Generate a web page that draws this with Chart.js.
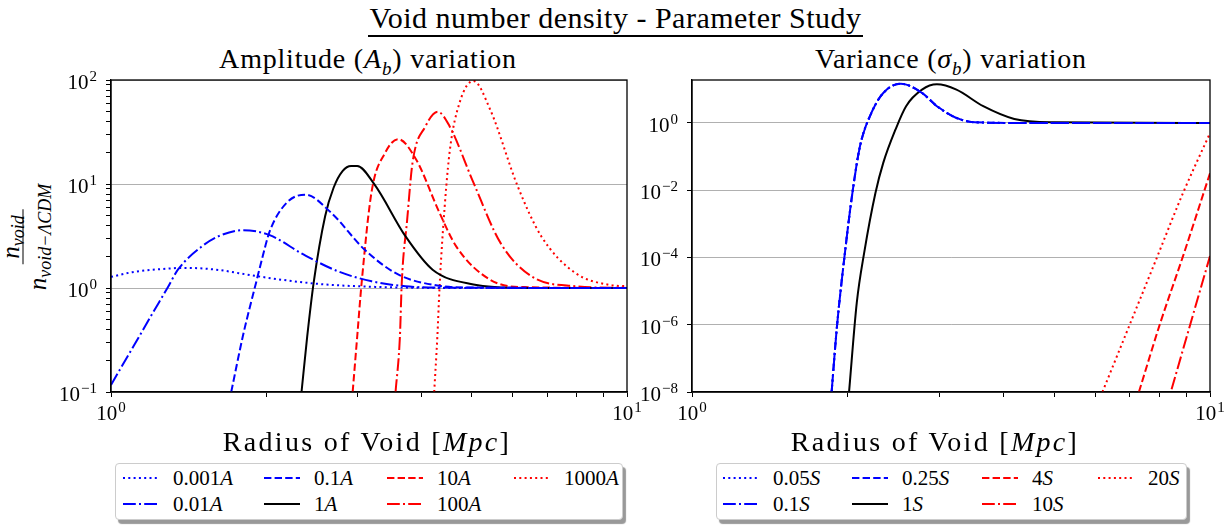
<!DOCTYPE html>
<html>
<head>
<meta charset="UTF-8">
<title>Void number density - Parameter Study</title>
<script src="https://cdn.jsdelivr.net/npm/chart.js@4.4.1/dist/chart.umd.min.js"></script>
<style>
  body { margin: 0; background: #fff; font-family: 'Liberation Serif', serif; color: #000; }
  #page { position: relative; width: 1231px; height: 525px; overflow: hidden; }
  .abs { position: absolute; }
  #title { left: 0; width: 1231px; top: 1px; text-align: center; font-size: 30px; line-height: 34px; letter-spacing: 0.5px; }
  #title span { border-bottom: 2px solid #000; padding: 0 1px 1px; }
  .sub { top: 43px; font-size: 28px; line-height: 32px; text-align: center; white-space: nowrap; letter-spacing: 0.8px; }
  .sub sub { font-size: 19px; }
  .xt { top: 426px; font-size: 28px; line-height: 32px; text-align: center; white-space: nowrap; letter-spacing: 2.3px; }
  .wrap { top: 0; height: 430px; }
  .legend { top: 463px; height: 55px; border: 1px solid #ccc; border-radius: 4px; background: #fff;
            box-shadow: 3px 4px 1px #999; }
  .item { position: absolute; font-size: 21px; line-height: 24px; display: flex; align-items: center; white-space: nowrap; }
  .item svg { margin-right: 14px; }
  #ylab { left: 24px; top: 237px; transform: translate(-50%, -50%) rotate(-90deg); text-align: center; font-size: 25px; white-space: nowrap; line-height: 16px; }
  #ylab .num { padding: 0 6px 4px; border-bottom: 1.5px solid #000; display: inline-block; }
  #ylab .den { padding-top: 6px; }
  #ylab sub { font-size: 18px; line-height: 0; vertical-align: -0.3em; }
</style>
</head>
<body>
<div id="page">
  <div id="title" class="abs"><span>Void number density - Parameter Study</span></div>
  <div class="abs sub" style="left:168px;width:400px">Amplitude (<i>A<sub>b</sub></i>) variation</div>
  <div class="abs sub" style="left:751px;width:400px">Variance (<i>σ<sub>b</sub></i>) variation</div>
  <div id="ylab" class="abs">
    <div class="num"><i>n<sub>void</sub></i></div><br>
    <div class="den"><i>n<sub>void−ΛCDM</sub></i></div>
  </div>
  <div class="abs wrap" style="left:0;width:660px"><canvas id="ampChart"></canvas></div>
  <div class="abs wrap" style="left:630px;width:601px"><canvas id="sigChart"></canvas></div>
  <div class="abs xt" style="left:167px;width:400px">Radius of Void [<i>Mpc</i>]</div>
  <div class="abs xt" style="left:735px;width:400px">Radius of Void [<i>Mpc</i>]</div>
  <div id="ampLegend" class="abs legend" style="left:115px;width:506px"></div>
  <div id="sigLegend" class="abs legend" style="left:716px;width:469px"></div>
</div>

<script>
// tick values (log axes)
const xTicks = [1, 2, 3, 4, 5, 6, 7, 8, 9, 10];
const ampYTicks = [0.1, 0.2, 0.3, 0.4, 0.5, 0.6, 0.7, 0.8, 0.9,
                   1, 2, 3, 4, 5, 6, 7, 8, 9,
                   10, 20, 30, 40, 50, 60, 70, 80, 90, 100];
const sigYTicks = [1e-8, 1e-6, 1e-4, 1e-2, 1];

// legend labels
const ampLabels = ['0.001', '0.01', '0.1', '1', '10', '100', '1000'];
const sigLabels = ['0.05', '0.1', '0.25', '1', '4', '10', '20'];

// left panel: amplitude variation
const ampX_0001 = [1.0, 1.1, 1.25, 1.39, 1.6, 1.88, 2.2, 2.55, 3.0, 3.5, 4.5, 10];
const ampY_0001 = [1.28, 1.42, 1.52, 1.56, 1.5, 1.32, 1.18, 1.09, 1.04, 1.015, 1.0, 1.0];

const ampX_001 = [1.0, 1.107, 1.194, 1.288, 1.348, 1.5, 1.617, 1.8, 2.03, 2.36, 2.75, 3.2, 3.72, 4.33, 10];
const ampY_001 = [0.117, 0.278, 0.533, 1.01, 1.5, 2.51, 3.15, 3.6, 3.22, 2.1, 1.45, 1.16, 1.04, 1.01, 1.0];

const ampX_01 = [1.71, 1.8, 1.853, 1.91, 1.968, 2.03, 2.19, 2.38, 2.67, 3.1, 3.6, 4.33, 5.0, 10];
const ampY_01 = [0.1, 0.34, 0.62, 1.12, 2.02, 3.5, 6.6, 7.9, 5.3, 2.34, 1.35, 1.05, 1.01, 1.0];

const ampX_1 = [2.34, 2.4, 2.47, 2.6, 2.7, 2.81, 2.92, 3.0, 3.24, 3.72, 4.2, 5.04, 6.3, 10];
const ampY_1 = [0.1, 0.34, 1.12, 4.9, 9.2, 13.3, 14.9, 14.9, 9.9, 3.15, 1.5, 1.08, 1.0, 1.0];

const ampX_10 = [2.94, 3.0, 3.06, 3.2, 3.4, 3.6, 3.9, 4.33, 4.67, 5.43, 6.3, 10];
const ampY_10 = [0.1, 0.34, 1.12, 8.5, 20, 27, 17.3, 5.3, 2.5, 1.2, 1.02, 1.0];

const ampX_100 = [3.56, 3.63, 3.66, 3.75, 3.84, 4.07, 4.3, 4.53, 5.04, 5.69, 6.52, 7.93, 10];
const ampY_100 = [0.1, 0.34, 1.12, 4.56, 16, 36, 49.5, 36, 10.3, 2.7, 1.3, 1.04, 1.0];

const ampX_1000 = [4.23, 4.29, 4.33, 4.4, 4.53, 4.74, 5.04, 5.43, 6.14, 6.82, 7.93, 9.24, 10];
const ampY_1000 = [0.1, 0.34, 0.96, 3.66, 20, 61, 98, 52, 9.5, 3.15, 1.4, 1.07, 1.04];

// right panel: variance variation
const sigX_005 = [1.86, 1.905, 1.97, 2.04, 2.11, 2.22, 2.34, 2.53, 2.78, 2.97, 3.24, 3.52, 4.5, 10];
const sigY_005 = [1e-8, 9.1e-7, 1.1e-4, 8.3e-3, 0.204, 2.0, 7.8, 14.7, 7.8, 3.16, 1.41, 1.05, 1.0, 1.0];
const sigX_01 = [1.86, 1.905, 1.97, 2.04, 2.11, 2.22, 2.34, 2.53, 2.78, 2.97, 3.24, 3.52, 4.5, 10];
const sigY_01 = [1e-8, 9.0e-7, 1.1e-4, 8.2e-3, 0.2, 2.0, 7.8, 14.6, 7.8, 3.16, 1.41, 1.05, 1.0, 1.0];
const sigX_025 = [1.86, 1.905, 1.97, 2.04, 2.11, 2.22, 2.34, 2.53, 2.78, 2.97, 3.24, 3.52, 4.5, 10];
const sigY_025 = [1e-8, 9.1e-7, 1.1e-4, 8.3e-3, 0.204, 2.0, 7.8, 14.7, 7.9, 3.2, 1.42, 1.05, 1.0, 1.0];

const sigX_1 = [2.01, 2.08, 2.15, 2.26, 2.34, 2.47, 2.59, 2.78, 2.97, 3.24, 3.65, 4.19, 5.0, 10];
const sigY_1 = [1e-8, 4.5e-6, 1.4e-4, 8.3e-3, 0.065, 0.63, 3.16, 9.8, 14.1, 9.8, 3.16, 1.32, 1.05, 1.0];

const sigX_4 = [7.29, 8.02, 8.87, 10];
const sigY_4 = [1e-8, 1.15e-6, 1.1e-4, 0.032];
const sigX_10 = [8.43, 9.18, 10];
const sigY_10 = [1.2e-8, 1.15e-6, 1.1e-4];
const sigX_20 = [6.2, 6.98, 7.87, 8.87, 10];
const sigY_20 = [1e-8, 9.1e-7, 8.7e-5, 8.3e-3, 0.5];

// line styles (matplotlib ':' '-.' '--' '-' scaled to lw 2)
const DOT = [2, 3.3], DASH = [7.4, 3.2], DASHDOT = [12.8, 3.2, 2, 3.2], SOLID = [];
const BLUE = '#0000ff', RED = '#ff0000', BLACK = '#000000';
const styles = [
  { c: BLUE, d: DOT }, { c: BLUE, d: DASHDOT }, { c: BLUE, d: DASH }, { c: BLACK, d: SOLID },
  { c: RED, d: DASH }, { c: RED, d: DASHDOT }, { c: RED, d: DOT }
];

const FONT = "'Liberation Serif', serif";

function isDecade(v) {
  const l = Math.log10(v);
  return Math.abs(l - Math.round(l)) < 1e-9;
}
function pts(xs, ys) {
  return xs.map((x, i) => ({ x: x, y: ys[i] }));
}

// draws 10^n tick labels with a raised exponent, like mathtext
function drawSci(ctx, v, px, baseY, align) {
  const e = Math.round(Math.log10(v));
  const ex = (e < 0 ? '\u2212' : '') + Math.abs(e);
  ctx.font = '21px ' + FONT;
  const wb = ctx.measureText('10').width;
  ctx.font = '15px ' + FONT;
  const we = ctx.measureText(ex).width + 1;
  const left = align === 'right' ? px - wb - we : px - (wb + we) / 2;
  ctx.font = '21px ' + FONT;
  ctx.fillText('10', left, baseY);
  ctx.font = '15px ' + FONT;
  ctx.fillText(ex, left + wb + 1, baseY - 8);
}

const sciLabels = {
  id: 'sciLabels',
  afterDraw(chart) {
    const ctx = chart.ctx, xs = chart.scales.x, ys = chart.scales.y;
    ctx.save();
    ctx.fillStyle = '#000';
    ctx.textAlign = 'left';
    ctx.textBaseline = 'alphabetic';
    ys.ticks.forEach(t => {
      if (isDecade(t.value)) drawSci(ctx, t.value, ys.right - 14, ys.getPixelForValue(t.value) + 9, 'right');
    });
    xs.ticks.forEach(t => {
      if (isDecade(t.value)) drawSci(ctx, t.value, xs.getPixelForValue(t.value), xs.top + 28, 'center');
    });
    ctx.restore();
  }
};

const frame = {
  id: 'frame',
  afterDatasetsDraw(chart) {
    const a = chart.chartArea, ctx = chart.ctx;
    ctx.save();
    ctx.strokeStyle = '#000';
    ctx.lineWidth = 1.3;
    ctx.strokeRect(a.left, a.top, a.right - a.left, a.bottom - a.top);
    ctx.restore();
  }
};

function options(yMin, yMax, yTicks, yWidth, padRight) {
  return {
    responsive: true,
    maintainAspectRatio: false,
    animation: false,
    layout: { padding: { top: 80, right: padRight, bottom: 6, left: 0 } },
    plugins: { legend: { display: false }, tooltip: { enabled: false } },
    elements: {
      point: { radius: 0 },
      line: { borderWidth: 2, cubicInterpolationMode: 'monotone', borderCapStyle: 'butt' }
    },
    scales: {
      x: {
        type: 'logarithmic', min: 1, max: 10,
        afterBuildTicks: s => { s.ticks = xTicks.map(v => ({ value: v })); },
        afterFit: s => { s.height = 32; },
        ticks: { autoSkip: false, maxRotation: 0, callback: () => '' },
        grid: { drawOnChartArea: false, tickLength: 5, tickColor: '#000' },
        border: { color: '#000', width: 1.3 }
      },
      y: {
        type: 'logarithmic', min: yMin, max: yMax,
        afterBuildTicks: s => { s.ticks = yTicks.map(v => ({ value: v })); },
        afterFit: s => { s.width = yWidth; },
        ticks: { autoSkip: false, callback: () => '' },
        grid: {
          color: c => (c.tick && isDecade(c.tick.value)) ? '#b0b0b0' : 'rgba(0,0,0,0)',
          lineWidth: 1, tickLength: 5, tickColor: '#000'
        },
        border: { color: '#000', width: 1.3 }
      }
    }
  };
}

function datasets(list) {
  return list.map((s, i) => ({
    data: pts(s[0], s[1]),
    borderColor: styles[i].c,
    borderDash: styles[i].d,
    fill: false
  }));
}

new Chart('ampChart', {
  type: 'line',
  data: { datasets: datasets([
    [ampX_0001, ampY_0001], [ampX_001, ampY_001], [ampX_01, ampY_01], [ampX_1, ampY_1],
    [ampX_10, ampY_10], [ampX_100, ampY_100], [ampX_1000, ampY_1000]
  ]) },
  options: options(0.1, 100, ampYTicks, 111, 33),
  plugins: [frame, sciLabels]
});

new Chart('sigChart', {
  type: 'line',
  data: { datasets: datasets([
    [sigX_005, sigY_005], [sigX_01, sigY_01], [sigX_025, sigY_025], [sigX_1, sigY_1],
    [sigX_4, sigY_4], [sigX_10, sigY_10], [sigX_20, sigY_20]
  ]) },
  options: options(1e-8, 19, sigYTicks, 62, 21),
  plugins: [frame, sciLabels]
});

// legends: 4 columns x 2 rows, filled column by column
function legend(id, labels, unit, cols) {
  const box = document.getElementById(id);
  labels.forEach((lab, i) => {
    const col = Math.floor(i / 2), row = i % 2;
    const st = styles[i];
    const el = document.createElement('div');
    el.className = 'item';
    el.style.left = cols[col] + 'px';
    el.style.top = (row === 0 ? 2 : 28) + 'px';
    el.innerHTML = '<svg width="36" height="10"><line x1="0" y1="5" x2="36" y2="5" stroke="' + st.c +
      '" stroke-width="2" stroke-dasharray="' + (st.d.length ? st.d.join(' ') : 'none') + '"/></svg>' +
      lab + '<i>' + unit + '</i>';
    box.appendChild(el);
  });
}
legend('ampLegend', ampLabels, 'A', [7, 148, 271, 398]);
legend('sigLegend', sigLabels, 'S', [6, 135, 265, 381]);
</script>
</body>
</html>
